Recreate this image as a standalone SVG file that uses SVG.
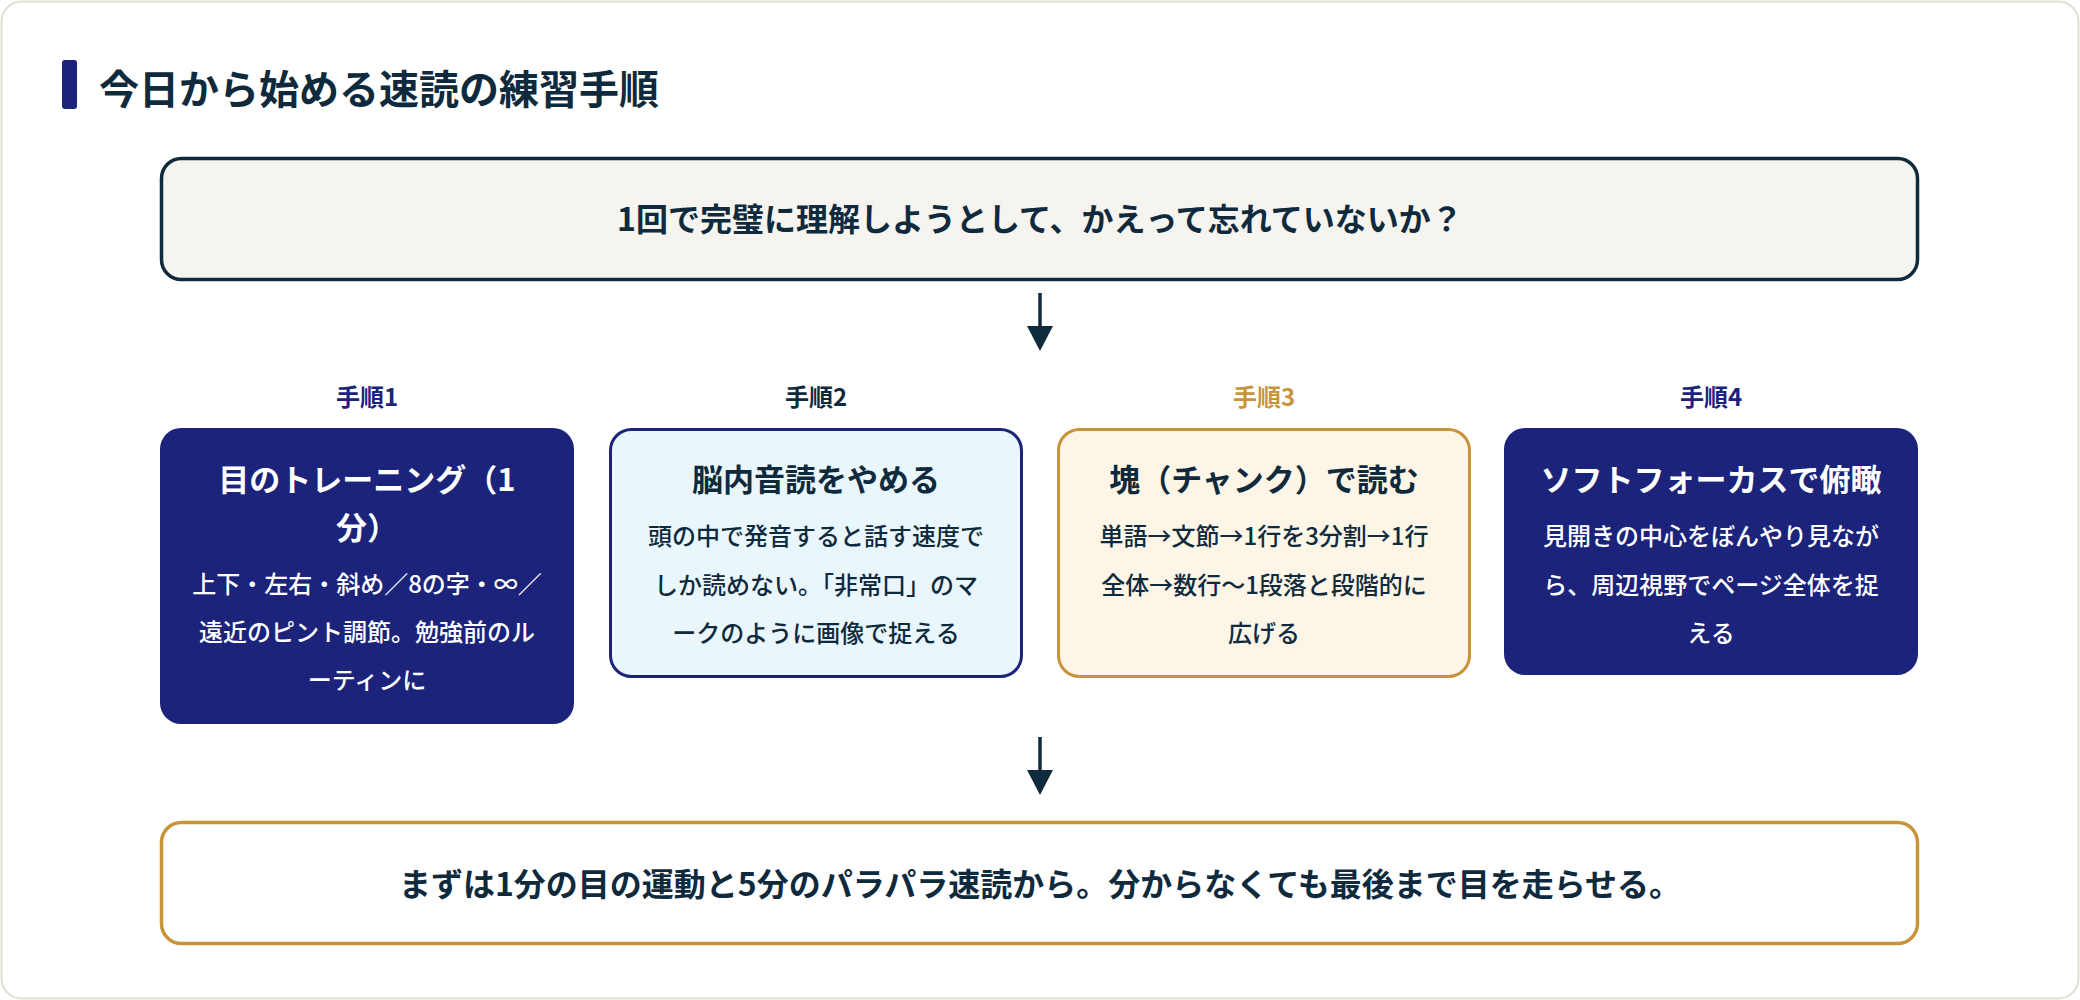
<svg xmlns="http://www.w3.org/2000/svg" width="2080" height="1000" viewBox="0 0 2080 1000">
<defs>
<style>
text{font-family:"Noto Sans CJK JP","Noto Sans",sans-serif;text-anchor:middle}
.t{font-weight:700;fill:#0f2a3d}
.lbl{font-size:24px;font-weight:700}
.nt{font-size:31px;font-weight:700}
.nb{font-size:24px;font-weight:500}
.w{fill:#ffffff}
.d{fill:#0f2a3d}
</style>
<marker id="ah" viewBox="0 0 10 10" refX="9" refY="5" markerWidth="6" markerHeight="6" orient="auto" markerUnits="userSpaceOnUse">
</marker>
</defs>
<rect x="1.5" y="1.5" width="2077" height="997" rx="20" fill="#ffffff" stroke="#e2dfd2" stroke-width="2"/>
<rect x="62" y="60" width="15" height="49" rx="3" fill="#1b237a"/>
<text x="99" y="104" class="t" style="text-anchor:start;font-size:40px">今日から始める速読の練習手順</text>

<g id="question">
<rect x="161.5" y="158.5" width="1756" height="121" rx="20" fill="#f5f4ef" stroke="#0f2a3d" stroke-width="3.5"/>
<text x="1040" y="231" class="t" style="font-size:32px">1回で完璧に理解しようとして、かえって忘れていないか？</text>
</g>

<g id="connectors" stroke="#0f2a3d" stroke-width="3.5" fill="#0f2a3d">
<line x1="1040" y1="293" x2="1040" y2="330"/>
<polygon points="1027,326 1053,326 1040,351" stroke="none"/>
<line x1="1040" y1="737" x2="1040" y2="774"/>
<polygon points="1027,770 1053,770 1040,795" stroke="none"/>
</g>

<g id="step1">
<text x="367" y="406" class="lbl" fill="#1b237a">手順1</text>
<rect x="160" y="428" width="414" height="296" rx="21" fill="#1b237a"/>
<text x="367" y="491" class="nt w">目のトレーニング（1</text>
<text x="367" y="539" class="nt w">分）</text>
<text x="367" y="593" class="nb w">上下・左右・斜め／8の字・∞／</text>
<text x="367" y="641" class="nb w">遠近のピント調節。勉強前のル</text>
<text x="367" y="689" class="nb w">ーティンに</text>
</g>

<g id="step2">
<text x="816" y="406" class="lbl" fill="#0f2a3d">手順2</text>
<rect x="610.5" y="429.5" width="411" height="247" rx="21" fill="#e9f7fc" stroke="#1b237a" stroke-width="3"/>
<text x="816" y="491" class="nt d">脳内音読をやめる</text>
<text x="816" y="545" class="nb d">頭の中で発音すると話す速度で</text>
<text x="816" y="594" class="nb d">しか読めない。「非常口」のマ</text>
<text x="816" y="642" class="nb d">ークのように画像で捉える</text>
</g>

<g id="step3">
<text x="1264" y="406" class="lbl" fill="#c8943a">手順3</text>
<rect x="1058.5" y="429.5" width="411" height="247" rx="21" fill="#fdf5e6" stroke="#c8943a" stroke-width="3"/>
<text x="1264" y="491" class="nt d">塊（チャンク）で読む</text>
<text x="1264" y="545" class="nb d">単語→文節→1行を3分割→1行</text>
<text x="1264" y="594" class="nb d">全体→数行〜1段落と段階的に</text>
<text x="1264" y="642" class="nb d">広げる</text>
</g>

<g id="step4">
<text x="1711" y="406" class="lbl" fill="#1b237a">手順4</text>
<rect x="1504" y="428" width="414" height="247" rx="21" fill="#1b237a"/>
<text x="1711" y="491" class="nt w">ソフトフォーカスで俯瞰</text>
<text x="1711" y="545" class="nb w">見開きの中心をぼんやり見なが</text>
<text x="1711" y="594" class="nb w">ら、周辺視野でページ全体を捉</text>
<text x="1711" y="642" class="nb w">える</text>
</g>

<g id="conclusion">
<rect x="161.5" y="822.5" width="1756" height="121" rx="20" fill="#ffffff" stroke="#c8943a" stroke-width="3.5"/>
<text x="1040" y="896" class="t" style="font-size:32px">まずは1分の目の運動と5分のパラパラ速読から。分からなくても最後まで目を走らせる。</text>
</g>
</svg>
